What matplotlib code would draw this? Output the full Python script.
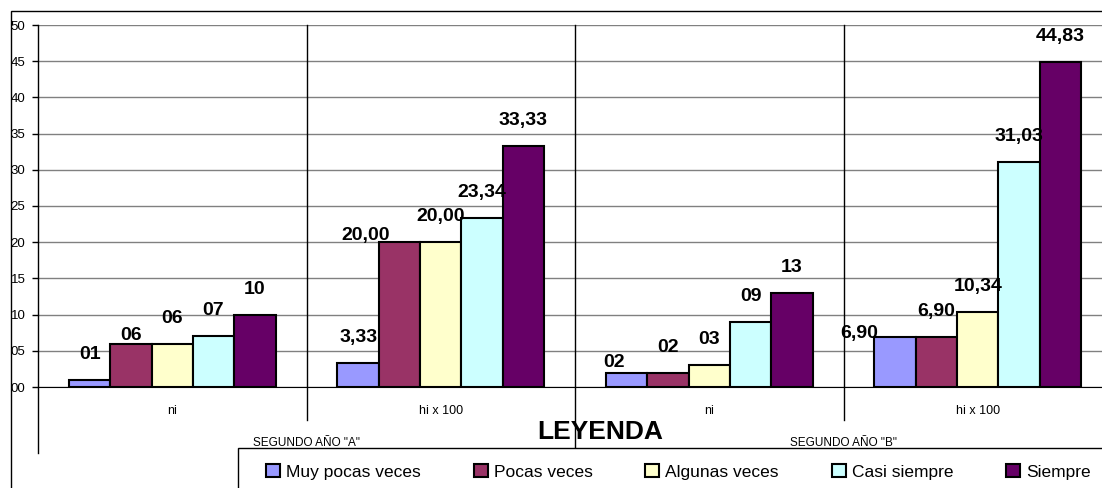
import numpy as np
import matplotlib.pyplot as plt
from matplotlib.patches import Rectangle, Patch
from matplotlib.ticker import FuncFormatter

plt.rcParams['font.family'] = ['Liberation Sans', 'DejaVu Sans']

# data
categories = ["ni", "hi x 100", "ni", "hi x 100"]
groups = ['SEGUNDO AÑO "A"', 'SEGUNDO AÑO "B"']
series_names = ["Muy pocas veces", "Pocas veces", "Algunas veces", "Casi siempre", "Siempre"]
muy_pocas = [1, 3.33, 2, 6.90]
pocas = [6, 20.00, 2, 6.90]
algunas = [6, 20.00, 3, 10.34]
casi_siempre = [7, 23.34, 9, 31.03]
siempre = [10, 33.33, 13, 44.83]
series = [muy_pocas, pocas, algunas, casi_siempre, siempre]

colors = ["#9999FF", "#993366", "#FFFFCC", "#CCFFFF", "#660066"]

# labels that were moved by hand in the original (series, category) -> (dx, dy) pixels
label_nudge = {(1, 0): (0, -17.5), (1, 1): (-34, -18.5), (0, 2): (-13, -15), (0, 3): (-36, -21.5)}

W, H = 1102, 488
fig = plt.figure(figsize=(W / 100, H / 100), dpi=100)
ax = fig.add_axes([38 / W, (H - 387) / H, 1074 / W, 362 / H])

x = np.arange(len(categories))
w = 1 / 6.5
for i, vals in enumerate(series):
    bars = ax.bar(x + (i - 2) * w, vals, w, color=colors[i], edgecolor='black', linewidth=1.5, zorder=3)
    for j, b in enumerate(bars):
        v = vals[j]
        if categories[j] == "ni":
            txt = "%02d" % v
        else:
            txt = ("%.2f" % v).replace('.', ',')
        dx, dy = label_nudge.get((i, j), (0, 0))
        ax.annotate(txt, (b.get_x() + b.get_width() / 2, v), xytext=(dx * 0.72, (25.5 + dy) * 0.72),
                    textcoords='offset points', ha='center', va='center',
                    fontsize=14, fontweight='bold', zorder=5)

ax.set_xlim(-0.5, 3.5)
ax.set_ylim(0, 50)
ax.set_yticks(np.arange(0, 51, 5))
ax.yaxis.set_major_formatter(FuncFormatter(lambda v, p: "%02d" % v))
ax.tick_params(axis='y', length=4, width=1, pad=5, labelsize=9.5, direction='out')
ax.set_xticks([])
ax.set_axisbelow(True)
ax.grid(axis='y', color='#808080', lw=1)
for s in ['top', 'right', 'left']:
    ax.spines[s].set_visible(False)
ax.spines['bottom'].set_color('black')

# axis line and category dividers
trans = ax.get_xaxis_transform()
ax.plot([-0.5, -0.5], [1, -0.1823], transform=trans, color='black', lw=1, clip_on=False)
for xd in [0.5, 2.5]:
    ax.plot([xd, xd], [1, -0.0912], transform=trans, color='black', lw=1, clip_on=False)
ax.plot([1.5, 1.5], [1, -0.1685], transform=trans, color='black', lw=1, clip_on=False)

for j, c in enumerate(categories):
    ax.text(x[j], -0.0663, c, transform=trans, ha='center', va='center', fontsize=9)
for g, name in enumerate(groups):
    ax.text(x[2 * g:2 * g + 2].mean(), -0.1547, name, transform=trans, ha='center', va='center', fontsize=8.5)

fig.text(600 / W, 1 - 432 / H, 'LEYENDA', fontsize=19, fontweight='bold', ha='center', va='center')

# legend box and outer border
fig.add_artist(Rectangle((238 / W, -0.1), 1, 0.1 + (H - 448) / H, transform=fig.transFigure,
                         facecolor='white', edgecolor='black', lw=1, zorder=2))
fig.add_artist(Rectangle((11 / W, -0.5), 2, 0.5 + (H - 11) / H, transform=fig.transFigure,
                         fill=False, edgecolor='black', lw=1, zorder=2))

handles = [Patch(facecolor=colors[i], edgecolor='black', linewidth=1.5, label=series_names[i]) for i in range(5)]
fig.legend(handles=handles, loc='center left', bbox_to_anchor=(266 / W, 1 - 472 / H), ncol=5,
           frameon=False, fontsize=12.5, handlelength=0.8, handleheight=0.8, handletextpad=0.35,
           columnspacing=3.05, borderpad=0, borderaxespad=0)

fig.savefig('out.png', dpi=100)
